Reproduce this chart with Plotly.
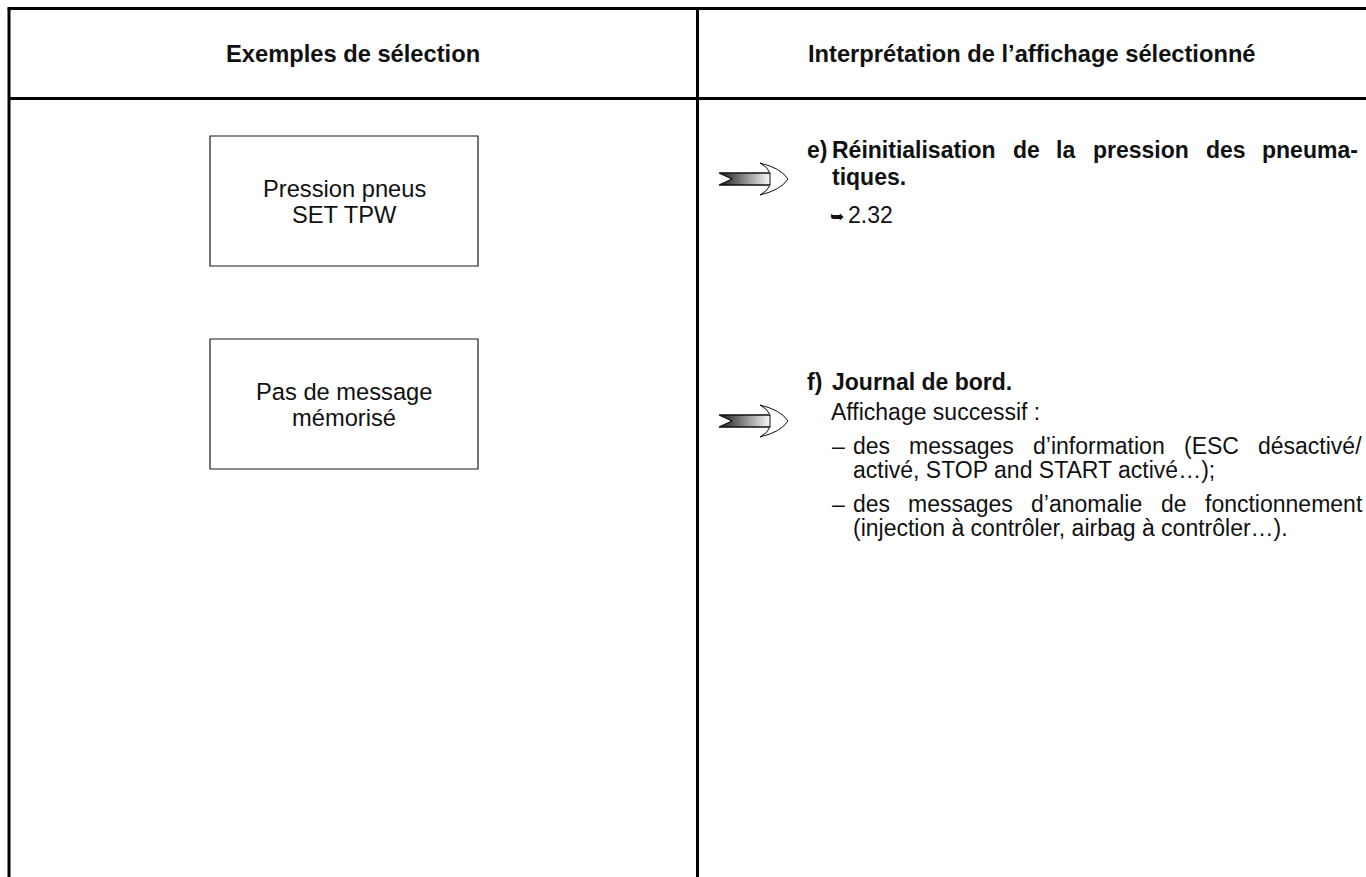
import plotly.graph_objects as go

# ---------------- content ----------------
column_titles = ["Exemples de sélection", "Interprétation de l’affichage sélectionné"]
display_examples = [["Pression pneus", "SET TPW"], ["Pas de message", "mémorisé"]]
item_letters = ["e)", "f)"]
item_titles = [["Réinitialisation de la pression des pneuma-", "tiques."], ["Journal de bord."]]
item_ref = ["➥", "2.32"]
f_intro = "Affichage successif :"
f_bullets = [["des messages d’information (ESC désactivé/", "activé, STOP and START activé…);"],
             ["des messages d’anomalie de fonctionnement", "(injection à contrôler, airbag à contrôler…)."]]

# ---------------- geometry ----------------
W, H = 1366, 877
TBL_L, TBL_T, TBL_R, TBL_B = 9, 8.5, 1372, 885
MID_X, HEAD_B = 697.5, 98.5
BOX_X = (210, 478)
BOX_Y = [(136, 266), (339, 469)]
LINE_GAP = 26
ARROW_X0 = 719
ARROW_CY = [179, 421]
LETTER_X, TEXT_X, DASH_X, BULLET_X = 805, 830, 830, 851
JUSTIFY_R = 1358

SANS = "Liberation Sans, Arial, sans-serif"
INK = "#111111"
BODY = 23

# Arial / Liberation Sans advance widths (per 1000 em) for justification
REG = {" ": 278, "a": 556, "b": 556, "c": 500, "d": 556, "e": 556, "f": 278, "g": 556, "h": 556,
       "i": 222, "j": 222, "k": 500, "l": 222, "m": 833, "n": 556, "o": 556, "p": 556, "q": 556,
       "r": 333, "s": 500, "t": 278, "u": 556, "v": 500, "w": 722, "x": 500, "y": 500, "z": 500,
       "é": 556, "è": 556, "à": 556, "ô": 556, "A": 667, "C": 722, "E": 667, "I": 278, "O": 778,
       "P": 667, "R": 722, "S": 667, "T": 611, "W": 944, "(": 333, ")": 333, ",": 278, ".": 278,
       "/": 278, ";": 278, ":": 278, "’": 222, "…": 1000, "–": 556, "-": 333}
BOLD = {" ": 278, "a": 556, "b": 611, "c": 556, "d": 611, "e": 556, "f": 333, "g": 611, "h": 611,
        "i": 278, "j": 278, "l": 278, "m": 889, "n": 611, "o": 611, "p": 611, "q": 611, "r": 389,
        "s": 556, "t": 333, "u": 611, "v": 556, "é": 556, "R": 722, "J": 556, ".": 278, "-": 333,
        ")": 333}

fig = go.Figure()
shapes = []
ann = []

def line(x0, y0, x1, y1, w=3, c="#000000"):
    shapes.append(dict(type="line", xref="x", yref="y", x0=x0, y0=y0, x1=x1, y1=y1,
                       line=dict(color=c, width=w)))

# table frame
line(TBL_L - 1.5, TBL_T, TBL_R, TBL_T)
line(TBL_L, TBL_T, TBL_L, TBL_B)
line(TBL_L, HEAD_B, TBL_R, HEAD_B)
line(MID_X, TBL_T, MID_X, TBL_B)

def text(x, y, s, size, bold=False, family=SANS, anchor="left"):
    ann.append(dict(x=x, y=y, xref="x", yref="y", text=f"<b>{s}</b>" if bold else s,
                    showarrow=False, xanchor=anchor, yanchor="middle",
                    font=dict(family=family, size=size, color=INK)))

def width(s, size, bold=False):
    tbl = BOLD if bold else REG
    return sum(tbl.get(ch, 556) for ch in s) * size / 1000.0

def justified(x0, x1, y, s, size, bold=False):
    words = s.split(" ")
    total = sum(width(w, size, bold) for w in words)
    gap = max((x1 - x0 - total) / (len(words) - 1), width(" ", size, bold))
    x = x0
    for w in words:
        text(x, y, w, size, bold=bold)
        x += width(w, size, bold) + gap

# headers
hdr_y = (TBL_T + HEAD_B) / 2
text((TBL_L + MID_X) / 2, hdr_y, column_titles[0], 23.7, bold=True, anchor="center")
text((MID_X + 1366) / 2, hdr_y, column_titles[1], 23.7, bold=True, anchor="center")

# display example boxes
for (y0, y1), lines_ in zip(BOX_Y, display_examples):
    shapes.append(dict(type="rect", xref="x", yref="y", x0=BOX_X[0], x1=BOX_X[1], y0=y0, y1=y1,
                       line=dict(color="#1a1a1a", width=1.2), fillcolor="rgba(0,0,0,0)"))
    cy = (y0 + y1) / 2
    n = len(lines_)
    for i, s in enumerate(lines_):
        text((BOX_X[0] + BOX_X[1]) / 2, cy + (i - (n - 1) / 2) * LINE_GAP + 1, s, 23.7, anchor="center")

# arrows
def arrow(x0, cy):
    xs = [x0, x0 + 52, x0 + 52, x0, x0 + 13, x0]
    ys = [cy - 6, cy - 6, cy + 6, cy + 6, cy, cy - 6]
    fig.add_trace(go.Scatter(x=xs, y=ys, mode="lines", fill="toself",
                             fillgradient=dict(type="horizontal", start=x0, stop=x0 + 52,
                                               colorscale=[[0, "#1a1a1a"], [0.5, "#8c8c8c"], [1, "#ffffff"]]),
                             line=dict(color="#111111", width=1.3), hoverinfo="skip", showlegend=False))
    hx = x0 + 51
    path = (f"M {hx},{cy-6} Q {hx-2},{cy-12} {x0+41},{cy-16} "
            f"Q {x0+62},{cy-11} {x0+69},{cy} "
            f"Q {x0+62},{cy+11} {x0+41},{cy+16} "
            f"Q {hx-2},{cy+12} {hx},{cy+6} Z")
    shapes.append(dict(type="path", xref="x", yref="y", path=path,
                       line=dict(color="#111111", width=1), fillcolor="#ffffff"))

for cy in ARROW_CY:
    arrow(ARROW_X0, cy)

# item e)
text(LETTER_X, 150, item_letters[0], BODY, bold=True)
justified(TEXT_X, JUSTIFY_R - 2, 150, item_titles[0][0], BODY, bold=True)
text(TEXT_X, 177, item_titles[0][1], BODY, bold=True)
text(TEXT_X - 2, 216, item_ref[0], 17, family="DejaVu Sans")
text(TEXT_X + 16, 215, item_ref[1], BODY)

# item f)
text(LETTER_X, 382, item_letters[1], BODY, bold=True)
text(TEXT_X, 382, item_titles[1][0], BODY, bold=True)
text(TEXT_X - 1, 412, f_intro, BODY)
bullet_y = [[446, 470], [504, 528]]
for ys, lines_ in zip(bullet_y, f_bullets):
    text(DASH_X, ys[0], "–", BODY)
    justified(BULLET_X, JUSTIFY_R + 2, ys[0], lines_[0], BODY)
    text(BULLET_X, ys[1], lines_[1], BODY)

fig.update_layout(
    width=W, height=H, margin=dict(l=0, r=0, t=0, b=0),
    paper_bgcolor="#ffffff", plot_bgcolor="#ffffff",
    xaxis=dict(range=[0, W], visible=False, fixedrange=True),
    yaxis=dict(range=[H, 0], visible=False, fixedrange=True),
    shapes=shapes, annotations=ann, showlegend=False,
)

fig.write_html("out.html", config={"displayModeBar": False},
               post_script="document.body.style.margin='0';document.body.style.overflow='hidden';")
